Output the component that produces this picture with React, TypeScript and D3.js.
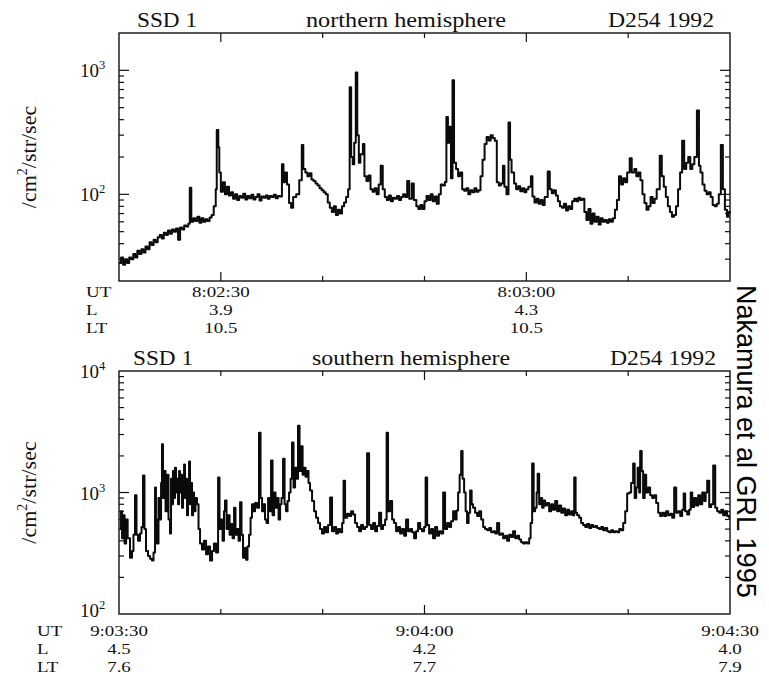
import React from "react";
import * as d3 from "d3";

// ---------- DATA ----------
// seconds after 8:02:20 UT, counts /cm2/str/sec
const northSeries: [number, number][] = [
  [0.0,28],[0.2,31],[0.4,27],[0.6,30],[0.8,28],[1.0,31],[1.2,30],[1.4,33],[1.6,31],[1.8,35],[2.0,33],[2.2,36],[2.4,34],[2.6,38],[2.8,36],[3.0,41],[3.2,39],[3.4,43],[3.6,41],[3.8,45],[4.0,47],[4.2,44],[4.4,49],[4.6,47],[4.8,51],[5.0,48],[5.2,52],[5.4,50],[5.6,53],[5.8,43],[6.0,54],[6.2,52],[6.4,56],[6.6,55],[6.8,58],[6.95,113],[7.1,60],[7.3,64],[7.5,61],[7.7,66],[7.9,59],[8.1,64],[8.3,60],[8.5,63],[8.7,61],[8.9,65],[9.1,68],[9.3,80],[9.5,110],[9.6,330],[9.75,240],[9.85,150],[10.0,105],[10.2,125],[10.4,100],[10.6,115],[10.8,98],[11.0,104],[11.2,92],[11.4,100],[11.6,90],[11.8,97],[12.0,94],[12.2,101],[12.4,91],[12.6,97],[12.8,93],[13.0,99],[13.2,91],[13.4,95],[13.6,100],[13.8,89],[14.0,96],[14.2,94],[14.4,98],[14.6,92],[14.8,97],[15.0,95],[15.2,99],[15.4,93],[15.6,97],[15.8,96],[16.0,175],[16.15,125],[16.3,150],[16.5,120],[16.7,85],[16.9,78],[17.1,95],[17.4,100],[17.7,130],[17.95,250],[18.1,160],[18.3,150],[18.5,140],[18.7,148],[18.9,132],[19.1,128],[19.3,122],[19.5,118],[19.7,112],[19.9,108],[20.1,104],[20.3,100],[20.5,86],[20.7,78],[20.9,72],[21.1,80],[21.3,68],[21.5,75],[21.7,70],[21.9,80],[22.1,86],[22.3,95],[22.5,110],[22.65,730],[22.8,200],[22.95,175],[23.1,260],[23.25,960],[23.4,300],[23.55,180],[23.7,210],[23.95,255],[24.1,140],[24.3,128],[24.5,142],[24.7,110],[24.9,105],[25.1,112],[25.3,100],[25.5,120],[25.7,170],[25.9,110],[26.1,95],[26.3,90],[26.5,98],[26.7,88],[26.9,94],[27.1,92],[27.3,97],[27.5,90],[27.7,95],[27.9,100],[28.1,95],[28.3,128],[28.5,92],[28.75,122],[28.95,90],[29.2,80],[29.4,76],[29.6,82],[29.8,76],[30.0,88],[30.2,97],[30.4,90],[30.6,100],[30.8,88],[31.0,96],[31.2,84],[31.4,100],[31.6,120],[31.8,118],[32.0,126],[32.15,420],[32.3,260],[32.45,350],[32.6,135],[32.75,830],[32.9,180],[33.1,160],[33.3,140],[33.5,150],[33.7,110],[33.9,107],[34.1,112],[34.3,100],[34.5,108],[34.7,104],[34.9,112],[35.1,105],[35.3,108],[35.5,140],[35.7,190],[35.9,255],[36.1,290],[36.3,272],[36.5,300],[36.7,285],[36.9,270],[37.1,125],[37.3,118],[37.5,122],[37.7,170],[37.85,115],[38.05,100],[38.25,380],[38.4,190],[38.55,150],[38.8,122],[39.0,110],[39.2,116],[39.4,106],[39.6,112],[39.8,104],[40.0,110],[40.2,115],[40.45,140],[40.6,96],[40.8,86],[41.0,92],[41.2,84],[41.4,90],[41.6,82],[41.8,95],[42.1,153],[42.3,110],[42.5,102],[42.7,108],[42.9,98],[43.1,88],[43.3,80],[43.5,78],[43.7,84],[43.9,74],[44.1,80],[44.3,76],[44.5,88],[44.7,92],[44.9,88],[45.1,94],[45.3,90],[45.5,92],[45.7,72],[45.9,62],[46.1,76],[46.3,58],[46.5,70],[46.7,60],[46.9,66],[47.1,57],[47.3,64],[47.5,60],[47.7,62],[47.9,59],[48.1,63],[48.3,60],[48.5,64],[48.7,75],[48.9,90],[49.1,140],[49.3,120],[49.5,135],[49.7,125],[49.9,150],[50.15,195],[50.35,150],[50.6,160],[50.8,140],[51.0,150],[51.2,130],[51.4,100],[51.6,85],[51.8,75],[52.0,80],[52.2,95],[52.4,85],[52.6,92],[52.8,110],[53.1,205],[53.3,140],[53.5,115],[53.7,95],[53.9,80],[54.1,72],[54.3,66],[54.5,68],[54.7,80],[54.9,110],[55.1,150],[55.3,270],[55.5,160],[55.7,180],[55.9,200],[56.1,160],[56.3,175],[56.5,200],[56.75,475],[56.95,170],[57.1,150],[57.3,120],[57.5,107],[57.7,100],[57.9,104],[58.1,95],[58.3,82],[58.5,80],[58.7,84],[58.9,100],[59.1,250],[59.3,110],[59.5,75],[59.7,66],[59.85,72],[60.0,70]
];

// seconds after 9:03:30 UT
const southSeries: [number, number][] = [
  [0.1,500],[0.2,700],[0.3,420],[0.4,650],[0.55,380],[0.7,600],[0.85,420],[1.08,290],[1.28,330],[1.42,450],[1.57,950],[1.72,450],[1.87,400],[2.06,460],[2.21,520],[2.36,1380],[2.5,500],[2.65,330],[2.85,300],[3.05,285],[3.24,275],[3.39,320],[3.54,1100],[3.63,600],[3.73,380],[3.88,900],[4.03,600],[4.13,1200],[4.22,2500],[4.32,900],[4.42,1500],[4.57,700],[4.72,1400],[4.86,600],[5.01,460],[5.11,1300],[5.21,800],[5.3,1500],[5.4,900],[5.5,1600],[5.6,1000],[5.7,1300],[5.8,800],[5.9,1500],[5.99,1000],[6.09,1400],[6.19,750],[6.29,1200],[6.39,1700],[6.48,900],[6.58,1300],[6.68,650],[6.78,1100],[6.88,1800],[6.97,800],[7.07,1200],[7.17,650],[7.27,1000],[7.37,700],[7.51,900],[7.66,800],[7.81,500],[7.96,380],[8.15,340],[8.35,400],[8.55,310],[8.74,360],[8.94,275],[9.14,330],[9.33,380],[9.53,320],[9.73,1330],[9.87,500],[10.02,600],[10.17,400],[10.31,700],[10.41,860],[10.56,500],[10.71,650],[10.86,450],[11.0,550],[11.15,420],[11.3,750],[11.44,450],[11.59,500],[11.74,400],[11.89,830],[12.03,450],[12.18,290],[12.33,350],[12.48,280],[12.62,360],[12.77,450],[12.92,620],[13.06,800],[13.21,700],[13.36,820],[13.56,750],[13.75,3100],[13.9,900],[14.05,700],[14.19,800],[14.34,600],[14.49,560],[14.64,900],[14.78,700],[14.93,1830],[15.08,650],[15.23,1000],[15.37,750],[15.52,900],[15.67,600],[15.82,800],[15.96,900],[16.11,1900],[16.26,800],[16.4,700],[16.55,850],[16.7,1000],[16.85,1300],[16.99,2580],[17.14,1100],[17.29,1600],[17.44,1300],[17.58,3550],[17.73,1500],[17.88,2400],[18.03,1400],[18.17,1600],[18.32,1350],[18.47,1500],[18.61,1200],[18.76,1040],[18.96,850],[19.16,700],[19.35,620],[19.55,560],[19.74,500],[19.94,460],[20.14,520],[20.33,470],[20.53,540],[20.73,910],[20.92,480],[21.12,520],[21.32,460],[21.51,500],[21.71,470],[21.91,560],[22.05,1250],[22.2,620],[22.4,670],[22.59,640],[22.79,700],[22.99,660],[23.18,560],[23.38,520],[23.58,480],[23.77,540],[23.97,500],[24.17,520],[24.36,2100],[24.56,540],[24.75,500],[24.95,560],[25.15,480],[25.34,530],[25.54,680],[25.74,500],[25.93,540],[26.13,600],[26.28,3100],[26.42,700],[26.62,850],[26.82,600],[27.01,560],[27.21,480],[27.41,520],[27.6,460],[27.8,500],[28.0,440],[28.19,600],[28.39,480],[28.59,500],[28.78,470],[28.98,420],[29.17,480],[29.37,560],[29.57,500],[29.76,480],[29.96,520],[30.11,1330],[30.26,540],[30.45,460],[30.65,500],[30.84,420],[31.04,520],[31.24,440],[31.43,480],[31.63,460],[31.83,1000],[32.02,500],[32.22,560],[32.42,520],[32.61,580],[32.81,700],[33.01,600],[33.15,710],[33.3,1000],[33.45,1400],[33.6,2200],[33.74,1300],[33.89,1000],[34.04,700],[34.18,560],[34.33,680],[34.48,1040],[34.63,800],[34.77,750],[34.97,680],[35.17,640],[35.36,700],[35.56,600],[35.76,520],[35.95,500],[36.15,490],[36.35,510],[36.54,470],[36.74,480],[36.94,460],[37.13,560],[37.33,450],[37.52,460],[37.72,420],[37.92,440],[38.11,400],[38.31,450],[38.51,430],[38.7,480],[38.9,420],[39.1,440],[39.29,410],[39.49,390],[39.69,380],[39.88,390],[40.08,380],[40.28,420],[40.42,560],[40.57,1730],[40.72,700],[40.86,750],[41.01,1000],[41.11,1430],[41.26,800],[41.4,900],[41.55,750],[41.7,860],[41.85,780],[42.04,820],[42.24,700],[42.44,800],[42.63,720],[42.83,850],[43.03,700],[43.22,780],[43.42,680],[43.61,740],[43.81,650],[44.01,720],[44.2,660],[44.4,700],[44.55,650],[44.7,1330],[44.84,680],[44.99,650],[45.19,620],[45.38,560],[45.58,540],[45.78,520],[45.97,550],[46.17,510],[46.37,540],[46.56,520],[46.76,530],[46.95,510],[47.15,500],[47.35,520],[47.54,490],[47.74,510],[47.94,480],[48.13,470],[48.33,490],[48.53,470],[48.72,480],[48.92,470],[49.12,500],[49.31,490],[49.51,560],[49.71,700],[49.9,980],[50.1,1000],[50.29,1200],[50.49,1730],[50.64,900],[50.79,1100],[50.93,1600],[51.08,1000],[51.18,2200],[51.33,1500],[51.47,900],[51.62,1400],[51.77,1000],[51.96,1100],[52.16,950],[52.36,900],[52.55,950],[52.75,820],[52.95,680],[53.14,640],[53.34,680],[53.54,640],[53.73,700],[53.93,650],[54.13,670],[54.32,620],[54.52,1100],[54.72,680],[54.91,700],[55.11,640],[55.3,720],[55.45,980],[55.6,700],[55.8,660],[55.99,720],[56.14,1000],[56.29,760],[56.48,900],[56.68,780],[56.88,950],[57.07,800],[57.27,1000],[57.47,850],[57.61,1000],[57.76,1250],[57.96,760],[58.15,800],[58.35,1670],[58.55,750],[58.74,700],[58.94,680],[59.14,720],[59.33,650],[59.53,700],[59.72,640],[59.92,610]
];

const northTitles = ["SSD 1", "northern hemisphere", "D254 1992"];
const southTitles = ["SSD 1", "southern hemisphere", "D254 1992"];

const rowLabels = ["UT", "L", "LT"];

const northLabelTimes = [10, 40];
const northUT = ["8:02:30", "8:03:00"];
const northL = ["3.9", "4.3"];
const northLT = ["10.5", "10.5"];

const southLabelTimes = [0, 30, 60];
const southUT = ["9:03:30", "9:04:00", "9:04:30"];
const southL = ["4.5", "4.2", "4.0"];
const southLT = ["7.6", "7.7", "7.9"];

const northYDomain: [number, number] = [20, 2000];
const northYLabels = [2, 3];
const southYDomain: [number, number] = [100, 10000];
const southYLabels = [2, 3, 4];

const citation = "Nakamura et al GRL 1995";

// ---------- LAYOUT ----------
const SERIF = "'Liberation Serif', 'Times New Roman', serif";
const SANS = "'Liberation Sans', Arial, sans-serif";
const INK = "#111";

type PanelProps = {
  top: number;
  bottom: number;
  series: [number, number][];
  yDomain: [number, number];
  yLabels: number[];
  titles: string[];
  titleX: number[];
  titleW: number[];
  labelTimes: number[];
  ut: string[];
  L: string[];
  LT: string[];
  majorTimes: number[];
  rowX: number;
  rowBase: number[];
  ylabelX: number;
  yLabelShift: (e: number) => number;
};

const X0 = 119;
const X1 = 730;
const ROW_FONT = 15.5;
const ROW_SX = 1.22;

function Panel(p: PanelProps) {
  const x = d3.scaleLinear().domain([0, 60]).range([X0, X1]);
  const y = d3.scaleLog().domain(p.yDomain).range([p.bottom, p.top]);
  const line = d3
    .line<[number, number]>()
    .x((d) => x(d[0]))
    .y((d) => y(d[1]))
    .curve(d3.curveStepAfter);

  const [lo, hi] = p.yDomain;
  const yTicks: { v: number; major: boolean }[] = [];
  for (let e = Math.floor(Math.log10(lo)); e <= Math.ceil(Math.log10(hi)); e++) {
    for (let k = 1; k <= 9; k++) {
      const v = k * Math.pow(10, e);
      if (v > lo * 1.0001 && v < hi * 0.9999) yTicks.push({ v, major: k === 1 });
    }
  }
  const xTicks = d3.range(10, 60, 10);

  const midY = (p.top + p.bottom) / 2;
  return (
    <g>
      {/* titles */}
      {p.titles.map((t, i) => (
        <text
          key={t + i}
          x={p.titleX[i]}
          y={p.top - 6}
          fontFamily={SERIF}
          fontSize={21}
          fill={INK}
          textLength={p.titleW[i]}
          lengthAdjust="spacingAndGlyphs"
        >
          {t}
        </text>
      ))}
      {/* data */}
      <path d={line(p.series) || ""} fill="none" stroke="#0a0a0a" strokeWidth={2} strokeLinejoin="round" />
      {/* frame */}
      <rect x={X0} y={p.top} width={X1 - X0} height={p.bottom - p.top} fill="none" stroke={INK} strokeWidth={1.4} />
      {/* x ticks */}
      {xTicks.map((t) => {
        const len = p.majorTimes.includes(t) ? 9 : 5;
        return (
          <g key={"xt" + t} stroke={INK} strokeWidth={1.2}>
            <line x1={x(t)} x2={x(t)} y1={p.bottom} y2={p.bottom - len} />
            <line x1={x(t)} x2={x(t)} y1={p.top} y2={p.top + len} />
          </g>
        );
      })}
      {/* y ticks */}
      {yTicks.map((t) => {
        const len = t.major ? 10 : 5;
        return (
          <g key={"yt" + t.v} stroke={INK} strokeWidth={1.2}>
            <line x1={X0} x2={X0 + len} y1={y(t.v)} y2={y(t.v)} />
            <line x1={X1} x2={X1 - len} y1={y(t.v)} y2={y(t.v)} />
          </g>
        );
      })}
      {/* y labels */}
      {p.yLabels.map((e) => (
        <text
          key={"yl" + e}
          x={80}
          y={y(Math.pow(10, e)) + p.yLabelShift(e)}
          fontFamily={SERIF}
          fontSize={19}
          fill={INK}
        >
          10
          <tspan dy={-8} fontSize={12.5}>
            {e}
          </tspan>
        </text>
      ))}
      {/* y axis title */}
      <text
        transform={`translate(${p.ylabelX},${midY}) rotate(-90)`}
        textAnchor="middle"
        fontFamily={SERIF}
        fontSize={22}
        fill={INK}
      >
        /cm
        <tspan dy={-9} fontSize={14}>
          2
        </tspan>
        <tspan dy={9}>/str/sec</tspan>
      </text>
      {/* row labels */}
      {rowLabels.map((r, i) => (
        <text
          key={"r" + r}
          transform={`translate(${p.rowX},${p.rowBase[i]}) scale(${ROW_SX},1)`}
          fontFamily={SERIF}
          fontSize={ROW_FONT}
          fill={INK}
        >
          {r}
        </text>
      ))}
      {p.labelTimes.map((t, j) =>
        [p.ut[j], p.L[j], p.LT[j]].map((s, i) => (
          <text
            key={"v" + j + "_" + i}
            transform={`translate(${x(t)},${p.rowBase[i]}) scale(${ROW_SX},1)`}
            textAnchor="middle"
            fontFamily={SERIF}
            fontSize={ROW_FONT}
            fill={INK}
          >
            {s}
          </text>
        ))
      )}
    </g>
  );
}

export default function App() {
  return (
    <svg
      width={769}
      height={680}
      viewBox="0 0 769 680"
      style={{ position: "absolute", left: 0, top: 0, background: "#fff" }}
    >
      <rect x={0} y={0} width={769} height={680} fill="#fff" />
      <Panel
        top={33}
        bottom={281}
        series={northSeries}
        yDomain={northYDomain}
        yLabels={northYLabels}
        titles={northTitles}
        titleX={[137, 306, 608]}
        titleW={[60, 200, 106]}
        labelTimes={northLabelTimes}
        ut={northUT}
        L={northL}
        LT={northLT}
        majorTimes={[10, 40]}
        rowX={86}
        rowBase={[297, 315, 333]}
        ylabelX={36}
        yLabelShift={() => 7}
      />
      <Panel
        top={371}
        bottom={614}
        series={southSeries}
        yDomain={southYDomain}
        yLabels={southYLabels}
        titles={southTitles}
        titleX={[133, 312, 610]}
        titleW={[60, 198, 106]}
        labelTimes={southLabelTimes}
        ut={southUT}
        L={southL}
        LT={southLT}
        majorTimes={[30]}
        rowX={37}
        rowBase={[636, 654, 672]}
        ylabelX={36}
        yLabelShift={(e) => (e === 2 ? 3 : 7)}
      />
      <text
        transform="translate(737,285) rotate(90)"
        fontFamily={SANS}
        fontSize={27}
        fill="#000"
      >
        {citation}
      </text>
    </svg>
  );
}
